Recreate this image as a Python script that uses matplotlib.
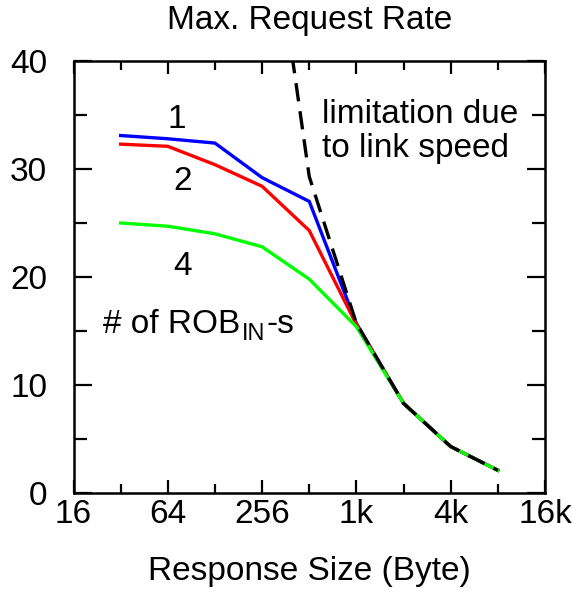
import matplotlib
matplotlib.use("Agg")
import matplotlib.pyplot as plt
from matplotlib.ticker import NullFormatter, FixedFormatter
from matplotlib.transforms import IdentityTransform

plt.rcParams['font.family'] = ['Liberation Sans', 'DejaVu Sans']

sizes = [32, 64, 128, 256, 512, 1024, 2048, 4096, 8192]
rob1 = [33.1, 32.8, 32.4, 29.2, 27.0, 15.7, 8.3, 4.3, 2.1]
rob2 = [32.3, 32.1, 30.4, 28.4, 24.3, 15.6, 8.3, 4.3, 2.1]
rob4 = [25.0, 24.7, 24.0, 22.8, 19.8, 15.4, 8.3, 4.3, 2.1]
link_sizes = [256, 512, 1024, 2048, 4096, 8192]
link_limit = [60.0, 29.3, 15.7, 8.3, 4.3, 2.1]

xticks = [16, 64, 256, 1024, 4096, 16384]
xticklabels = ['16', '64', '256', '1k', '4k', '16k']
xminor = [32, 128, 512, 2048, 8192]
yticks = [0, 10, 20, 30, 40]
yminor = [5, 15, 25, 35]

fig = plt.figure(figsize=(5.72, 5.92), dpi=100)
ax = fig.add_axes([73.5 / 572, (592 - 493) / 592, (545 - 73.5) / 572, (493 - 61) / 592])

lw = 2.4
ax.plot(sizes, rob1, color='#0000ff', lw=lw, solid_joinstyle='miter')
ax.plot(sizes, rob2, color='#ff0000', lw=lw, solid_joinstyle='miter')
ax.plot(sizes, rob4, color='#00ff00', lw=lw, solid_joinstyle='miter')
ax.plot(link_sizes, link_limit, color='black', lw=lw, dashes=(5.5, 3.0))

ax.set_xscale('log', base=2)
ax.set_xlim(16, 16384)
ax.set_ylim(0, 40)
ax.set_xticks(xticks)
ax.set_xticks(xminor, minor=True)
ax.xaxis.set_major_formatter(FixedFormatter(xticklabels))
ax.xaxis.set_minor_formatter(NullFormatter())
ax.set_yticks(yticks)
ax.set_yticks(yminor, minor=True)
ax.yaxis.set_minor_formatter(NullFormatter())

for s in ax.spines.values():
    s.set_linewidth(1.8)

fs = 24
ax.tick_params(which='both', direction='in', top=True, right=True, width=1.6,
               labelsize=fs, colors='black')
ax.tick_params(axis='x', which='major', length=9.5, pad=4)
ax.tick_params(axis='x', which='minor', length=6.5)
ax.tick_params(axis='y', which='major', length=13, pad=19)
ax.tick_params(axis='y', which='minor', length=9.5)

ax.set_title('Max. Request Rate', fontsize=fs, pad=23)
ax.set_xlabel('Response Size (Byte)', fontsize=fs, labelpad=19)

ax.text(73, 33.8, '1', fontsize=fs, ha='center', va='baseline')
ax.text(80, 28.06, '2', fontsize=fs, ha='center', va='baseline')
ax.text(80, 20.2, '4', fontsize=fs, ha='center', va='baseline')
ax.text(616, 34.26, 'limitation due', fontsize=fs, ha='left', va='baseline')
ax.text(616, 31.1, 'to link speed', fontsize=fs, ha='left', va='baseline')

# "# of ROB_IN-s" with a large, lowered subscript
renderer = fig.canvas.get_renderer()
t1 = ax.text(24.7, 14.8, '# of ROB', fontsize=fs, ha='left', va='baseline')
bx, by = ax.transData.transform((24.7, 14.8))
bb1 = t1.get_window_extent(renderer)
t2 = ax.text(bb1.x1 + 2, by - 7, 'IN', fontsize=17, ha='left', va='baseline',
             transform=IdentityTransform())
bb2 = t2.get_window_extent(renderer)
ax.text(bb2.x1 + 0.5, by, '-s', fontsize=fs, ha='left', va='baseline',
        transform=IdentityTransform())

fig.savefig('out.png', dpi=100)
